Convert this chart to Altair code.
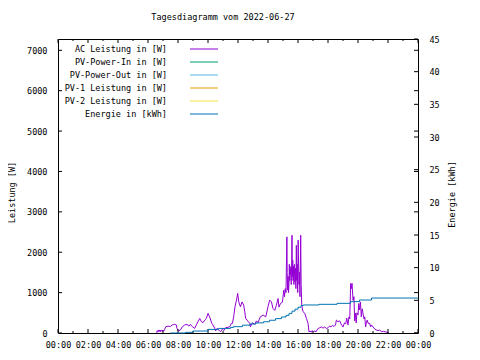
import altair as alt
import pandas as pd

TITLE = "Tagesdiagramm vom 2022-06-27"
series_labels = ["AC Leistung in [W]", "PV-Power-In in [W]", "PV-Power-Out in [W]",
                 "PV-1 Leistung in [W]", "PV-2 Leistung in [W]", "Energie in [kWh]"]
series_colors = ["#9400d3", "#009e73", "#56b4e9", "#e69f00", "#f0e442", "#0072b2"]

ac_hours = [6.58, 6.62, 6.66, 6.70, 6.74, 6.78, 6.82, 6.86, 6.90, 6.94, 6.98, 7.02, 7.06, 7.10,
            7.18, 7.33, 7.49, 7.62, 7.78, 7.89, 7.93, 8.02, 8.16, 8.29, 8.45, 8.60, 8.73, 8.82,
            8.96, 9.11, 9.22, 9.33, 9.45, 9.56, 9.67, 9.78, 9.89, 10.00, 10.11, 10.18, 10.25,
            10.33, 10.45, 10.51, 10.60, 10.71, 10.83, 10.96, 11.05, 11.18, 11.33, 11.45, 11.56,
            11.63, 11.71, 11.80, 11.90, 11.98, 12.05, 12.16, 12.27, 12.38, 12.45, 12.51, 12.60,
            12.69, 12.78, 12.83, 12.96, 13.11, 13.23, 13.33, 13.49, 13.67, 13.85, 14.00, 14.11,
            14.23, 14.33, 14.45, 14.56, 14.67, 14.73, 14.83, 14.96,
            15.05, 15.10, 15.15, 15.20, 15.23, 15.26, 15.28, 15.31, 15.34, 15.37, 15.40, 15.42,
            15.45, 15.47, 15.50, 15.52, 15.55, 15.58, 15.60, 15.62, 15.65, 15.67, 15.70, 15.73,
            15.76, 15.80, 15.83, 15.86, 15.89, 15.92, 15.95, 15.98, 16.01, 16.04, 16.07, 16.10,
            16.13, 16.16, 16.18, 16.21,
            16.25, 16.33, 16.45, 16.56, 16.67, 16.73, 16.80, 16.88, 16.95,
            17.03, 17.10, 17.20, 17.33, 17.45, 17.56, 17.67, 17.78, 17.90, 18.00, 18.10, 18.20,
            18.30, 18.40, 18.50, 18.56, 18.67, 18.78, 18.90, 19.00, 19.10, 19.18, 19.25, 19.33,
            19.40, 19.45, 19.51, 19.56, 19.60, 19.67, 19.73, 19.78, 19.83, 19.88, 19.93, 20.00,
            20.05, 20.10, 20.16, 20.22, 20.28, 20.33, 20.40, 20.45, 20.51, 20.56, 20.62, 20.67,
            20.78, 20.84, 20.90, 21.00, 21.11, 21.22, 21.34, 21.45, 21.56, 21.70, 21.85, 22.00,
            22.05]
ac_watts = [0, 60, 30, 70, 40, 75, 30, 70, 45, 75, 35, 70, 50, 80,
            155, 170, 160, 200, 215, 200, 115, 50, 75, 155, 200, 215, 170, 215,
            155, 115, 200, 280, 360, 280, 255, 320, 360, 485, 400, 320, 240,
            200, 115, 50, 115, 75, 30, 95, 60, 135, 140, 155, 240,
            240, 400, 650, 815, 980, 770, 650, 770, 690, 525, 360, 320,
            280, 240, 155, 255, 215, 300, 255, 400, 445, 400, 650, 815,
            770, 610, 560, 690, 855, 640, 730, 760,
            1060, 900, 1100, 1000, 1760, 2380, 1500, 1060, 1400, 1000, 1230, 1700,
            1300, 1650, 1450, 1600, 1200, 1750, 2420, 1400, 1800, 1300, 1650, 1200,
            1700, 1270, 1600, 1100, 2170, 1300, 1700, 1000, 2300, 1680, 1200, 1500,
            900, 1800, 2420, 1200,
            690, 530, 490, 360, 240, 30, 50, 20, 60,
            25, 55, 30, 110, 130, 150, 120, 150, 110, 130, 170, 150,
            190, 160, 200, 320, 280, 300, 200, 150, 250, 230, 370, 200,
            400, 350, 1225, 1100, 1230, 810, 900, 300, 490, 250, 500, 450,
            730, 570, 770, 400, 600, 490, 350, 400, 150, 280, 320, 240,
            240, 150, 200, 150, 100, 75, 60, 75, 30, 40, 25, 20,
            0]

energy_hours = [7.5, 8.5, 9.0, 10.0, 10.7, 11.5, 11.7, 12.3, 12.8, 13.2, 13.7, 14.1, 14.5,
                14.9, 15.2, 15.4, 15.6, 15.8, 16.0, 16.2, 16.35, 17.4, 18.6, 19.5, 20.1,
                20.9, 24.0]
energy_kwh = [0.0, 0.1, 0.3, 0.55, 0.7, 0.85, 0.97, 1.2, 1.38, 1.55, 1.72, 1.95, 2.2,
              2.45, 2.7, 3.0, 3.35, 3.65, 3.95, 4.2, 4.29, 4.39, 4.54, 4.8, 5.05,
              5.35, 5.35]

x_major = [0, 2, 4, 6, 8, 10, 12, 14, 16, 18, 20, 22, 24]
x_minor = [1, 3, 5, 7, 9, 11, 13, 15, 17, 19, 21, 23]
w_ticks = [0, 1000, 2000, 3000, 4000, 5000, 6000, 7000]
e_ticks = [0, 5, 10, 15, 20, 25, 30, 35, 40, 45]

FONT = "DejaVu Sans Mono"
FS = 8.5
W, H = 360, 294

xscale = alt.Scale(domain=[0, 24], nice=False, zero=False)
wscale = alt.Scale(domain=[0, 7280], nice=False)
escale = alt.Scale(domain=[0, 45], nice=False)
cscale = alt.Scale(domain=series_labels, range=series_colors)
lscale = alt.Scale(type="point", domain=series_labels, range=[10, 75], padding=0)

label_expr = "(datum.value % 24 < 10 ? '0' : '') + (datum.value % 24) + ':00'"
x_axis = alt.Axis(values=x_major, labelExpr=label_expr, title=None, ticks=False,
                  domain=False, grid=False, labelFont=FONT, labelFontSize=FS,
                  labelPadding=7, labelColor="black", labelFlush=False)
left_axis = alt.Axis(values=w_ticks, format="d", title="Leistung [W]", titleX=-43.5, titleY=153,
                     titleAngle=270, titleAlign="center", titleBaseline="alphabetic",
                     titleFont=FONT, titleFontSize=FS, titleFontWeight="normal",
                     titleColor="black", ticks=False, domain=False, grid=False,
                     labelFont=FONT, labelFontSize=FS, labelPadding=11, labelColor="black")
right_axis = alt.Axis(values=e_ticks, format="d", orient="right", title="Energie [kWh]",
                      titleX=36, titleY=155, titleAngle=270, titleAlign="center",
                      titleBaseline="alphabetic", titleFont=FONT, titleFontSize=FS,
                      titleFontWeight="normal", titleColor="black", ticks=False,
                      domain=False, grid=False, labelFont=FONT, labelFontSize=FS,
                      labelPadding=11, labelColor="black")

X = alt.X("h:Q", scale=xscale, axis=x_axis)

power_df = pd.DataFrame({"h": ac_hours, "v": ac_watts, "series": series_labels[0]})
energy_df = pd.DataFrame({"h": energy_hours, "v": energy_kwh, "series": series_labels[5]})
xmaj_df = pd.DataFrame({"h": x_major})
xmin_df = pd.DataFrame({"h": x_minor})
wt_df = pd.DataFrame({"v": w_ticks})
et_df = pd.DataFrame({"v": e_ticks})
leg_df = pd.DataFrame({"series": series_labels})

color = alt.Color("series:N", scale=cscale, legend=None)
Yw = alt.Y("v:Q", scale=wscale, axis=left_axis)
Ye = alt.Y("v:Q", scale=escale, axis=right_axis)

power_line = alt.Chart(power_df).mark_line(strokeWidth=1).encode(x=X, y=Yw, color=color)
lt = alt.Chart(wt_df).mark_rule(color="black", strokeWidth=1).encode(
    y=Yw, x=alt.value(0), x2=alt.value(4))
lt_mirror = alt.Chart(wt_df).mark_rule(color="black", strokeWidth=1).encode(
    y=Yw, x=alt.value(W), x2=alt.value(W - 4))
xb_maj = alt.Chart(xmaj_df).mark_rule(color="black", strokeWidth=1).encode(
    x=X, y=alt.value(H), y2=alt.value(H - 4))
xt_maj = alt.Chart(xmaj_df).mark_rule(color="black", strokeWidth=1).encode(
    x=X, y=alt.value(0), y2=alt.value(4))
xb_min = alt.Chart(xmin_df).mark_rule(color="black", strokeWidth=1).encode(
    x=X, y=alt.value(H), y2=alt.value(H - 2))
xt_min = alt.Chart(xmin_df).mark_rule(color="black", strokeWidth=1).encode(
    x=X, y=alt.value(0), y2=alt.value(2))
power_group = alt.layer(power_line, lt, lt_mirror, xb_maj, xt_maj, xb_min, xt_min)

energy_line = alt.Chart(energy_df).mark_line(strokeWidth=1, interpolate="step-after").encode(
    x=X, y=Ye, color=color)
et = alt.Chart(et_df).mark_rule(color="black", strokeWidth=1).encode(
    y=Ye, x=alt.value(W), x2=alt.value(W - 4))
energy_group = alt.layer(energy_line, et)

Yl = alt.Y("series:N", scale=lscale, axis=None, sort=series_labels)
leg_text = alt.Chart(leg_df).mark_text(align="right", baseline="middle", font=FONT,
                                       fontSize=FS, color="black").encode(
    x=alt.value(109), y=Yl, text="series:N")
leg_rule = alt.Chart(leg_df).mark_rule(strokeWidth=1).encode(
    x=alt.value(132), x2=alt.value(160), y=Yl, color=color)
legend_group = alt.layer(leg_text, leg_rule)

chart = alt.layer(power_group, energy_group, legend_group).resolve_scale(
    y="independent"
).properties(
    width=W, height=H,
    title=alt.TitleParams(TITLE, anchor="middle", dx=-15, offset=14, font=FONT,
                          fontSize=FS, fontWeight="normal", color="black"),
    autosize=alt.AutoSizeParams(type="none"),
    padding={"left": 50, "top": 31, "right": 50, "bottom": 20},
    background="white",
).configure_view(stroke="black", strokeWidth=1)

chart.save("out.html", embed_options={"renderer": "svg", "actions": False})
